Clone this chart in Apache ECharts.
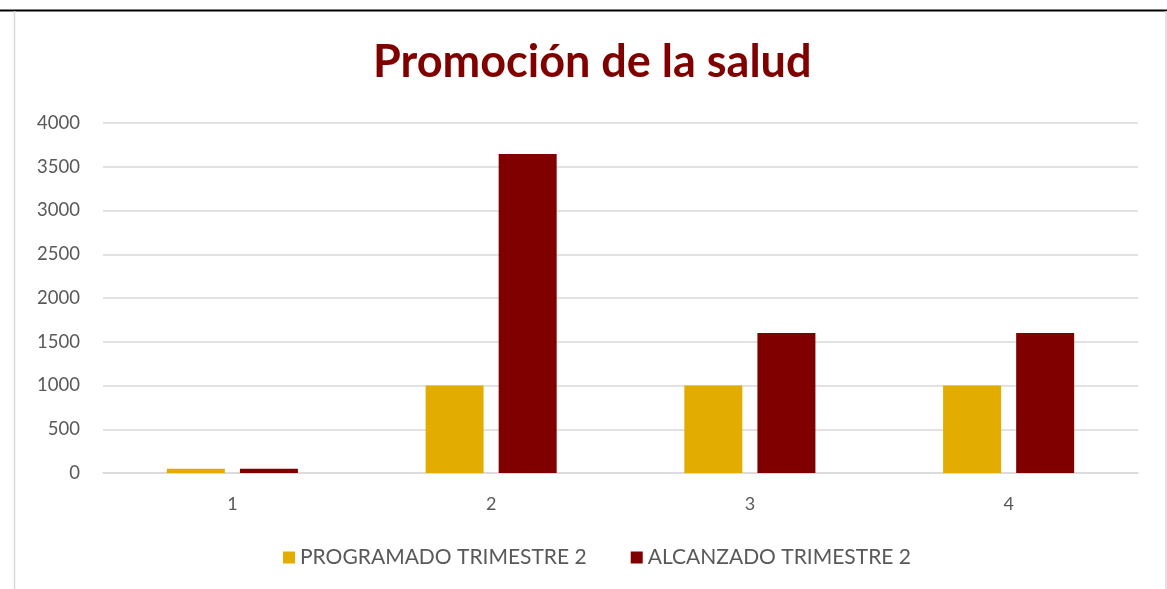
<!DOCTYPE html>
<html><head><meta charset="utf-8">
<script src="https://cdn.jsdelivr.net/npm/echarts@6/dist/echarts.min.js"></script>
<style>html,body{margin:0;padding:0;background:#fff}#c{width:1167px;height:589px}</style>
</head><body><div id="c"></div>
<script>
const categories = ['1', '2', '3', '4'];
const programado = [50, 1000, 1000, 1000];
const alcanzado = [50, 3645, 1600, 1600];
const seriesNames = ['PROGRAMADO TRIMESTRE 2', 'ALCANZADO TRIMESTRE 2'];

const chart = echarts.init(document.getElementById('c'));
chart.setOption({
  animation: false,
  textStyle: { fontFamily: 'Lato' },
  title: {
    text: 'Promoción de la salud',
    left: 368, top: 35,
    textStyle: { fontFamily: 'Lato', fontWeight: 'bold', fontSize: 45, color: '#800000' }
  },
  graphic: [
    { type: 'line', shape: { x1: 0, y1: 10.5, x2: 1167, y2: 10.5 }, style: { stroke: '#000', lineWidth: 2 } },
    { type: 'line', shape: { x1: 14.5, y1: 11, x2: 14.5, y2: 589 }, style: { stroke: '#d9d9d9', lineWidth: 1.5 } },
    { type: 'line', shape: { x1: 1166, y1: 11, x2: 1166, y2: 589 }, style: { stroke: '#d9d9d9', lineWidth: 1.5 } }
  ],
  legend: {
    data: seriesNames,
    bottom: 16, left: 278,
    itemWidth: 12, itemHeight: 12, itemGap: 44,
    icon: 'rect',
    textStyle: { fontFamily: 'Lato', fontSize: 21, color: '#595959' }
  },
  grid: { left: 103, right: 29, top: 123, bottom: 116, containLabel: false },
  xAxis: {
    type: 'category', data: categories,
    axisLine: { lineStyle: { color: '#d9d9d9', width: 1.5 } },
    axisTick: { show: false },
    axisLabel: { fontSize: 18, color: '#595959', margin: 22, fontFamily: 'Lato' }
  },
  yAxis: {
    type: 'value', min: 0, max: 4000, interval: 500,
    axisLine: { show: false }, axisTick: { show: false },
    splitLine: { lineStyle: { color: '#d9d9d9', width: 1.5 } },
    axisLabel: { fontSize: 18.5, color: '#595959', margin: 23, fontFamily: 'Lato', formatter: v => String(v) }
  },
  series: [
    { name: seriesNames[0], type: 'bar', data: programado, barWidth: 58, barGap: '26%', itemStyle: { color: '#E2AC00' } },
    { name: seriesNames[1], type: 'bar', data: alcanzado, barWidth: 58, barGap: '26%', itemStyle: { color: '#800000' } }
  ]
});
</script></body></html>
